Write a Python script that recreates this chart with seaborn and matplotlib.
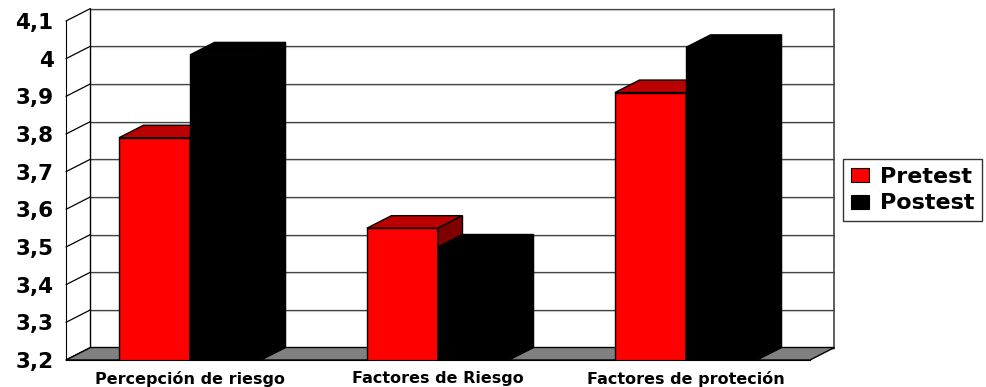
import matplotlib
matplotlib.use("Agg")
import matplotlib.pyplot as plt
from matplotlib.patches import Polygon, Patch
import seaborn as sns
import pandas as pd

# Values per category and test moment
categories = ["Percepción de riesgo", "Factores de Riesgo", "Factores de proteción"]
pretest = [3.79, 3.55, 3.91]
postest = [4.01, 3.50, 4.03]
series_names = ["Pretest", "Postest"]
y_ticks = [3.2, 3.3, 3.4, 3.5, 3.6, 3.7, 3.8, 3.9, 4.0, 4.1]
y_tick_labels = ["3,2", "3,3", "3,4", "3,5", "3,6", "3,7", "3,8", "3,9", "4", "4,1"]

df = pd.DataFrame({
    "categoria": categories * 2,
    "prueba": [series_names[0]] * 3 + [series_names[1]] * 3,
    "valor": pretest + postest,
})

sns.set_style("white")
plt.rcParams["font.family"] = ["DejaVu Sans"]
plt.rcParams["font.weight"] = "bold"
plt.rcParams["text.color"] = "black"
plt.rcParams["xtick.color"] = "black"
plt.rcParams["ytick.color"] = "black"

W, H = 987, 387
fig = plt.figure(figsize=(W / 100, H / 100), dpi=100)
fig.patch.set_facecolor("white")

# front plane of the 3-D box, in pixels
fx0, fx1, fy_bot, fy_top = 66, 810, 360, 21
ax = fig.add_axes([fx0 / W, 1 - fy_bot / H, (fx1 - fx0) / W, (fy_bot - fy_top) / H])
ax.set_facecolor("none")

colors = {"Pretest": "#FF0000", "Postest": "#000000"}
sns.barplot(data=df, x="categoria", y="valor", hue="prueba", order=categories,
            hue_order=series_names, palette=colors, width=0.573, saturation=1,
            edgecolor="black", linewidth=1, legend=False, ax=ax)

ymin, ymax = 3.2, 4.1
xmin, xmax = -0.5, 2.5
ax.set_xlim(xmin, xmax)
ax.set_ylim(ymin, ymax)

# depth offset of the box (in data units)
px_x = (xmax - xmin) / (fx1 - fx0)
px_y = (ymax - ymin) / (fy_bot - fy_top)
dx = 24.5 * px_x
dy = 12.5 * px_y

# back wall: gridlines with a light shadow line
for v in y_ticks:
    ax.plot([xmin + dx, xmax + dx], [v + dy - 1.0 * px_y] * 2, color="#d8d8d8",
            lw=0.8, zorder=0.4, clip_on=False)
    ax.plot([xmin + dx, xmax + dx], [v + dy] * 2, color="#444444",
            lw=0.9, zorder=0.5, clip_on=False)
    # left wall connectors
    ax.plot([xmin, xmin + dx], [v, v + dy], color="black", lw=0.9,
            zorder=0.6, clip_on=False)
ax.plot([xmin + dx, xmin + dx], [ymin + dy, ymax + dy], color="black", lw=1.0,
        zorder=0.6, clip_on=False)
ax.plot([xmax + dx, xmax + dx], [ymin + dy, ymax + dy], color="#444444", lw=1.2,
        zorder=0.6, clip_on=False)

bars = list(ax.patches)

# floor
floor = Polygon([(xmin, ymin), (xmax, ymin), (xmax + dx, ymin + dy), (xmin + dx, ymin + dy)],
                closed=True, facecolor="#808080", edgecolor="black", lw=1.0,
                zorder=1, clip_on=False)
ax.add_patch(floor)

# top and side faces of each column
top_colors = {"#ff0000": "#BB0000", "#000000": "#000000"}
side_colors = {"#ff0000": "#800000", "#000000": "#000000"}
for bar in bars:
    x0 = bar.get_x()
    w = bar.get_width()
    h = bar.get_height()
    fc = matplotlib.colors.to_hex(bar.get_facecolor())
    z = 3 if fc == "#ff0000" else 4
    bar.set_zorder(z)
    x1 = x0 + w
    top = Polygon([(x0, h), (x1, h), (x1 + dx, h + dy), (x0 + dx, h + dy)], closed=True,
                  facecolor=top_colors[fc], edgecolor="black", lw=1.0, zorder=z,
                  clip_on=False)
    side = Polygon([(x1, ymin), (x1, h), (x1 + dx, h + dy), (x1 + dx, ymin + dy)],
                   closed=True, facecolor=side_colors[fc], edgecolor="black", lw=1.0,
                   zorder=z, clip_on=False)
    ax.add_patch(top)
    ax.add_patch(side)

# axes, ticks and labels
for s in ["top", "right"]:
    ax.spines[s].set_visible(False)
ax.spines["left"].set_color("black")
ax.spines["bottom"].set_color("black")
ax.spines["left"].set_zorder(2)
ax.spines["bottom"].set_zorder(5)

ax.set_yticks(y_ticks)
ax.set_yticklabels(y_tick_labels, fontsize=15.5, fontweight="bold", color="black")
ax.tick_params(axis="y", length=5.5, width=0.9, color="#333333", pad=3.5, direction="out")

ax.set_xticks(range(len(categories)))
ax.set_xticklabels(categories, fontsize=11.5, fontweight="bold", color="black")
ax.set_xticks([-0.5, 0.5, 1.5, 2.5], minor=True)
ax.tick_params(axis="x", which="major", length=0, pad=8)
ax.tick_params(axis="x", which="minor", length=4.5, width=1, color="black", direction="out")
ax.set_xlabel("")
ax.set_ylabel("")

handles = [Patch(facecolor=colors[n], edgecolor="black", lw=0.8) for n in series_names]
leg = fig.legend(handles, series_names, loc="upper left",
                 bbox_to_anchor=(843 / W, 1 - 159 / H), bbox_transform=fig.transFigure,
                 frameon=True, fancybox=False, shadow=False, borderaxespad=0,
                 prop={"size": 16, "weight": "bold"}, handlelength=0.8,
                 handleheight=0.6, handletextpad=0.5, labelspacing=0.3,
                 borderpad=0.35)
leg.get_frame().set_edgecolor("black")
leg.get_frame().set_linewidth(1.0)
for t in leg.get_texts():
    t.set_color("black")

fig.savefig("out.png", dpi=100, facecolor="white")
